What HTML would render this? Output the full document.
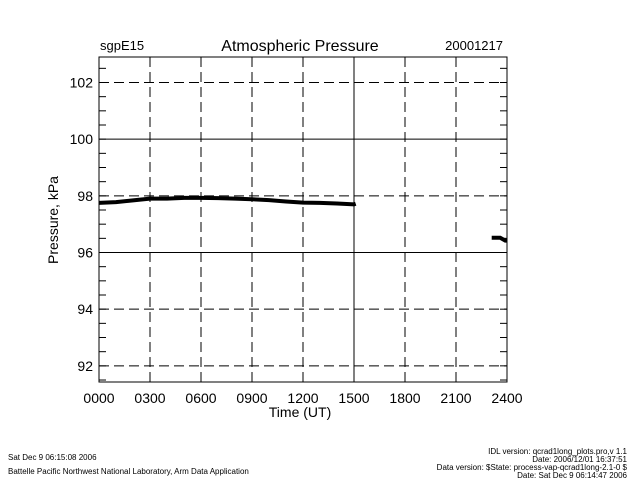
<!DOCTYPE html>
<html><head><meta charset="utf-8"><style>
body{margin:0;background:#fff;width:640px;height:480px;overflow:hidden}
text{font-family:"Liberation Sans",sans-serif;fill:#000}
</style></head><body>
<svg width="640" height="480">
<text x="100" y="50" font-size="13">sgpE15</text>
<text x="300" y="51" font-size="16" text-anchor="middle">Atmospheric Pressure</text>
<text x="503" y="50" font-size="13" text-anchor="end">20001217</text>
<g id="grid"></g>
<g id="axes"></g>
<g id="series"></g>
<text x="300" y="417" font-size="14" text-anchor="middle">Time (UT)</text>
<text transform="translate(58,220) rotate(-90)" font-size="14" text-anchor="middle">Pressure, kPa</text>
<text x="8" y="460" font-size="8">Sat Dec  9 06:15:08 2006</text>
<text x="8" y="474" font-size="8">Battelle Pacific Northwest National Laboratory, Arm Data Application</text>
<g font-size="8" text-anchor="end">
<text x="627" y="454">IDL version: qcrad1long_plots.pro,v 1.1</text>
<text x="627" y="462">Date: 2006/12/01 16:37:51</text>
<text x="627" y="470">Data version: $State: process-vap-qcrad1long-2.1-0 $</text>
<text x="627" y="478">Date: Sat Dec  9 06:14:47 2006</text>
</g>
</svg>
<script>
const xTicks=[0,3,6,9,12,15,18,21,24];
const xTickLabels=["0000","0300","0600","0900","1200","1500","1800","2100","2400"];
const yTicks=[92,94,96,98,100,102];
const seg1Hours=[0,1,2,3,4,5,6,7,8,9,10,11,12,13,14,15,15.1];
const seg1Values=[97.75,97.78,97.84,97.9,97.9,97.93,97.93,97.92,97.9,97.88,97.85,97.8,97.76,97.75,97.73,97.7,97.72];
const seg2Hours=[23.1,23.6,23.9,24];
const seg2Values=[96.52,96.52,96.42,96.42];
const L=99,R=507,T=57,B=382,ymin=91.43,ymax=102.9;
const X=h=>L+(R-L)*h/24, Y=v=>B-(B-T)*(v-ymin)/(ymax-ymin);
const NS="http://www.w3.org/2000/svg";
function mk(p,t,a){const e=document.createElementNS(NS,t);for(const k in a)e.setAttribute(k,a[k]);p.appendChild(e);return e;}
const g=document.getElementById('grid'),ax=document.getElementById('axes'),s=document.getElementById('series');
xTicks.forEach((h,i)=>{
 if(h>0&&h<24){const solid=h===15;
  const l=mk(g,'line',{x1:X(h),x2:X(h),y1:T,y2:B,stroke:'#000','stroke-dasharray':solid?'none':'10,5'});
  
  }
 const t=mk(ax,'text',{x:X(h),y:B+21,'font-size':14,'text-anchor':'middle'});t.textContent=xTickLabels[i];
 
 
});
yTicks.forEach(v=>{
 const solid=(v===100||v===96);
 const l=mk(g,'line',{x1:L,x2:R,y1:Y(v),y2:Y(v),stroke:'#000','stroke-dasharray':solid?'none':'10,5'});
 
 
 const t=mk(ax,'text',{x:L-6,y:Y(v)+5,'font-size':14,'text-anchor':'end'});t.textContent=v;
 
 
});
for(let v=91.5;v<102.9;v+=0.5){mk(ax,'line',{x1:L,x2:L+7,y1:Y(v),y2:Y(v),stroke:'#000'});mk(ax,'line',{x1:R-7,x2:R,y1:Y(v),y2:Y(v),stroke:'#000'});}
const fr=mk(ax,'rect',{x:L,y:T,width:R-L,height:B-T,fill:'none',stroke:'#000'});


[[seg1Hours,seg1Values],[seg2Hours,seg2Values]].forEach(([hs,vs])=>{
 const p=mk(s,'polyline',{points:hs.map((h,i)=>X(h)+','+Y(vs[i])).join(' '),fill:'none',stroke:'#000','stroke-width':4});
 
 
});
</script>
</body></html>
